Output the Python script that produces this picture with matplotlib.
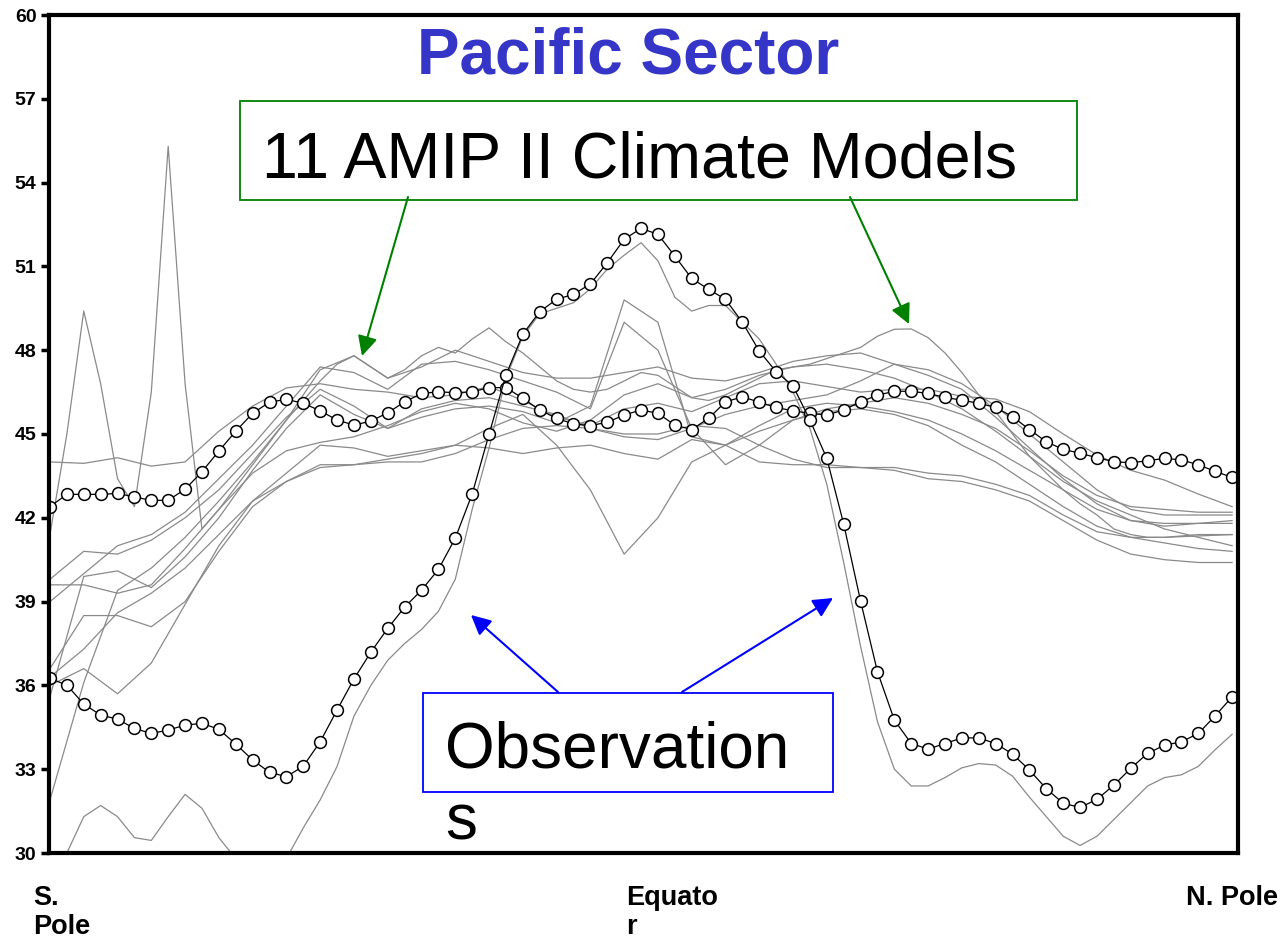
import numpy as np
import matplotlib
matplotlib.use('Agg')
import matplotlib.pyplot as plt
from matplotlib.patches import Rectangle, FancyArrowPatch

plt.rcParams['font.family'] = ['Liberation Sans', 'DejaVu Sans']

# latitude grid, S. Pole -> N. Pole
lat = np.linspace(-90, 90, 71)
lat_c = lat[::2]   # coarser model grid

# observations (two estimates)
obs_a = [42.4, 42.84, 42.84, 42.84, 42.87, 42.75, 42.62, 42.63, 43.02, 43.65,
         44.39, 45.1, 45.74, 46.14, 46.24, 46.1, 45.83, 45.5, 45.32, 45.46,
         45.76, 46.15, 46.45, 46.51, 46.48, 46.51, 46.66, 46.66, 46.28, 45.86,
         45.56, 45.36, 45.3, 45.42, 45.68, 45.86, 45.74, 45.32, 45.16, 45.56,
         46.15, 46.33, 46.14, 45.95, 45.83, 45.74, 45.68, 45.86, 46.15, 46.39,
         46.53, 46.53, 46.45, 46.31, 46.21, 46.1, 45.95, 45.62, 45.16, 44.72,
         44.45, 44.31, 44.15, 44.01, 43.97, 44.04, 44.13, 44.07, 43.9, 43.66, 43.45]
obs_b = [36.25, 36.01, 35.33, 34.94, 34.79, 34.46, 34.28, 34.4, 34.58, 34.64,
         34.43, 33.9, 33.33, 32.89, 32.73, 33.11, 33.98, 35.12, 36.23, 37.19,
         38.04, 38.8, 39.41, 40.15, 41.27, 42.85, 44.99, 47.11, 48.57, 49.38,
         49.82, 50.0, 50.37, 51.13, 51.97, 52.36, 52.15, 51.37, 50.57, 50.18,
         49.82, 49.0, 47.97, 47.23, 46.72, 45.5, 44.13, 41.78, 39.02, 36.49,
         34.76, 33.92, 33.72, 33.92, 34.12, 34.12, 33.92, 33.54, 32.97, 32.3,
         31.78, 31.63, 31.92, 32.43, 33.03, 33.57, 33.86, 33.98, 34.28, 34.91, 35.59]

# models on the fine grid
m02 = [41.4, 45.0, 49.4, 46.8, 43.4, 42.4, 46.5, 55.3, 46.8, 41.6,
       42.3, 43.1, 43.9, 44.7, 45.5, 46.2, 46.9, 47.5, 47.8, 47.4,
       47.0, 47.3, 47.8, 48.1, 47.9, 48.4, 48.8, 48.3, 47.9, 47.4,
       46.9, 46.6, 46.5, 46.6, 46.9, 47.2, 47.1, 46.7, 46.3, 46.2,
       46.4, 46.7, 47.0, 47.3, 47.4, 47.5, 47.7, 47.9, 48.1, 48.5,
       48.75, 48.76, 48.45, 47.9, 47.2, 46.4, 45.8, 45.0, 44.2, 43.6,
       43.0, 42.5, 42.1, 41.6, 41.4, 41.3, 41.3, 41.35, 41.4, 41.4, 41.4]
m09 = [28.3, 30.0, 31.3, 31.7, 31.3, 30.55, 30.45, 31.3, 32.1, 31.6,
       30.55, 29.8, 29.2, 29.0, 29.8, 30.9, 31.9, 33.1, 34.9, 36.0,
       36.9, 37.5, 38.0, 38.65, 39.8, 42.3, 44.5, 47.0, 48.5, 49.3,
       49.5, 49.7, 50.2, 50.9, 51.4, 51.85, 51.2, 49.9, 49.4, 49.6,
       49.6, 49.0, 48.4, 47.5, 46.5, 45.2, 43.2, 40.4, 37.4, 34.7,
       33.0, 32.4, 32.4, 32.7, 33.05, 33.2, 33.15, 32.75, 32.0, 31.3,
       30.6, 30.27, 30.6, 31.2, 31.8, 32.4, 32.7, 32.8, 33.1, 33.7, 34.25]

# models on the coarse grid
m01 = [44.0, 43.95, 44.15, 43.85, 44.0, 45.1, 46.0, 46.65, 46.8, 46.6, 46.5, 46.3,
       46.4, 46.7, 46.2, 45.6, 45.3, 45.9, 46.1, 45.8, 46.3, 46.8, 46.9, 46.7,
       46.5, 46.6, 46.6, 46.35, 46.25, 45.8, 45.0, 44.25, 43.7, 43.35, 42.85, 42.4]
m03 = [39.8, 40.8, 40.7, 41.2, 42.0, 43.0, 44.3, 45.6, 46.6, 46.0, 45.2, 45.6,
       45.9, 46.0, 45.8, 45.4, 46.0, 49.8, 49.0, 44.9, 44.6, 45.3, 45.9, 46.1,
       46.0, 45.8, 45.5, 45.0, 44.4, 43.7, 43.0, 42.3, 41.9, 41.7, 41.8, 41.9]
m04 = [39.0, 40.0, 41.0, 41.4, 42.2, 43.4, 44.6, 46.0, 47.4, 47.2, 46.6, 47.5,
       47.6, 47.3, 46.9, 46.5, 45.9, 49.0, 48.0, 45.2, 43.9, 44.6, 45.5, 45.9,
       46.1, 46.3, 46.1, 45.7, 45.2, 44.4, 43.5, 42.8, 42.4, 42.3, 42.2, 42.2]
m05 = [36.0, 36.6, 35.7, 36.8, 38.9, 41.0, 42.6, 43.3, 43.9, 43.9, 44.1, 44.3,
       44.6, 45.2, 45.7, 44.6, 43.0, 40.7, 42.0, 44.0, 44.6, 45.1, 45.5, 45.8,
       45.9, 45.7, 45.3, 44.6, 44.0, 43.2, 42.4, 41.7, 41.3, 41.1, 40.9, 40.8]
m06 = [36.3, 37.3, 38.6, 39.3, 40.2, 41.4, 42.6, 43.6, 44.6, 44.5, 44.2, 44.4,
       44.6, 44.5, 44.3, 44.5, 44.6, 44.3, 44.1, 44.8, 44.6, 44.0, 43.9, 43.9,
       43.8, 43.8, 43.6, 43.5, 43.2, 42.8, 42.1, 41.5, 41.3, 41.3, 41.35, 41.4]
m07 = [35.6, 39.9, 40.1, 39.5, 40.6, 42.0, 43.7, 45.2, 46.4, 45.7, 45.2, 45.9,
       46.2, 46.3, 46.0, 45.7, 45.2, 44.9, 44.8, 45.2, 45.7, 46.0, 46.2, 46.4,
       46.9, 47.5, 47.3, 46.8, 46.0, 45.0, 44.0, 43.0, 42.3, 42.1, 42.1, 42.1]
m08 = [31.9, 36.1, 39.4, 40.2, 41.3, 42.6, 44.0, 45.5, 47.3, 47.8, 47.0, 47.4,
       48.0, 47.6, 47.2, 47.0, 47.0, 47.2, 47.4, 47.0, 46.9, 47.2, 47.6, 47.8,
       47.9, 47.5, 47.1, 46.6, 45.6, 44.5, 43.4, 42.5, 41.9, 41.8, 41.8, 41.8]
m10 = [39.6, 39.6, 39.3, 39.6, 40.9, 42.3, 43.6, 44.4, 44.7, 44.9, 45.3, 45.8,
       46.1, 45.9, 45.4, 45.1, 45.5, 46.4, 46.8, 46.3, 46.6, 47.1, 47.4, 47.5,
       47.3, 47.0, 46.5, 45.9, 45.1, 44.2, 43.3, 42.6, 42.1, 41.6, 41.3, 41.0]
m11 = [36.6, 38.5, 38.5, 38.1, 39.0, 40.8, 42.4, 43.3, 43.8, 43.9, 44.0, 44.0,
       44.3, 44.8, 45.2, 45.3, 45.2, 45.0, 45.0, 45.3, 45.2, 44.6, 44.1, 43.8,
       43.8, 43.7, 43.4, 43.3, 43.0, 42.6, 41.9, 41.2, 40.7, 40.5, 40.4, 40.4]

W, H = 1288, 939
fig = plt.figure(figsize=(W / 100, H / 100), dpi=100)
ax = fig.add_axes([49 / W, 1 - 853 / H, (1238 - 49) / W, (853 - 15) / H])

grey = '#8a8a8a'
for m in [m02, m09]:
    ax.plot(lat, m, color=grey, lw=0.9)
for m in [m01, m03, m04, m05, m06, m07, m08, m10, m11]:
    ax.plot(lat_c, m, color=grey, lw=0.9)

for obs in [obs_a, obs_b]:
    ax.plot(lat, obs, color='black', lw=0.9, marker='o', ms=8.5,
            mfc='white', mec='black', mew=1.1)

ax.set_xlim(-90.15, 90.9)
ax.set_ylim(30, 60)
ax.set_yticks(range(30, 61, 3))
ax.set_xticks([])
for s in ax.spines.values():
    s.set_linewidth(3)
ax.tick_params(axis='y', direction='out', length=6, width=2.5, labelsize=14, pad=3)
for t in ax.get_yticklabels():
    t.set_fontweight('bold')

# x-axis labels
for x, s in [(33, 'S.\nPole'), (626, 'Equato\nr'), (1186, 'N. Pole')]:
    fig.text(x / W, 1 - 885 / H, s, ha='left', va='top', fontsize=19.5,
             fontweight='bold', linespacing=1.15)

# title
fig.text(628 / W, 1 - 57 / H, 'Pacific Sector', ha='center', va='center',
         fontsize=46, fontweight='bold', color='#3535c8')

# model box
fig.add_artist(Rectangle((240 / W, 1 - 200 / H), (1077 - 240) / W, 99 / H,
                         transform=fig.transFigure, fill=False, ec='#008000', lw=1.3))
fig.text(262 / W, 1 - 177 / H, '11 AMIP II Climate Models', fontsize=46.5, va='baseline')

# observation box
fig.add_artist(Rectangle((423 / W, 1 - 792 / H), (833 - 423) / W, 99 / H,
                         transform=fig.transFigure, fill=False, ec='#0000ff', lw=1.3))
fig.text(445 / W, 1 - 767 / H, 'Observation', fontsize=46, va='baseline')
fig.text(445 / W, 1 - 840 / H, 's', fontsize=46, va='baseline')

arrows = [((408, 197), (362, 356), '#008000'),
          ((850, 197), (909, 324), '#008000'),
          ((558, 692), (471, 615), '#0000ff'),
          ((682, 692), (833, 598), '#0000ff')]
for (x0, y0), (x1, y1), c in arrows:
    fig.add_artist(FancyArrowPatch((x0 / W, 1 - y0 / H), (x1 / W, 1 - y1 / H),
                                   transform=fig.transFigure, arrowstyle='-|>',
                                   mutation_scale=30, color=c, lw=1.5,
                                   shrinkA=0, shrinkB=0))

fig.savefig('out.png', dpi=100)
